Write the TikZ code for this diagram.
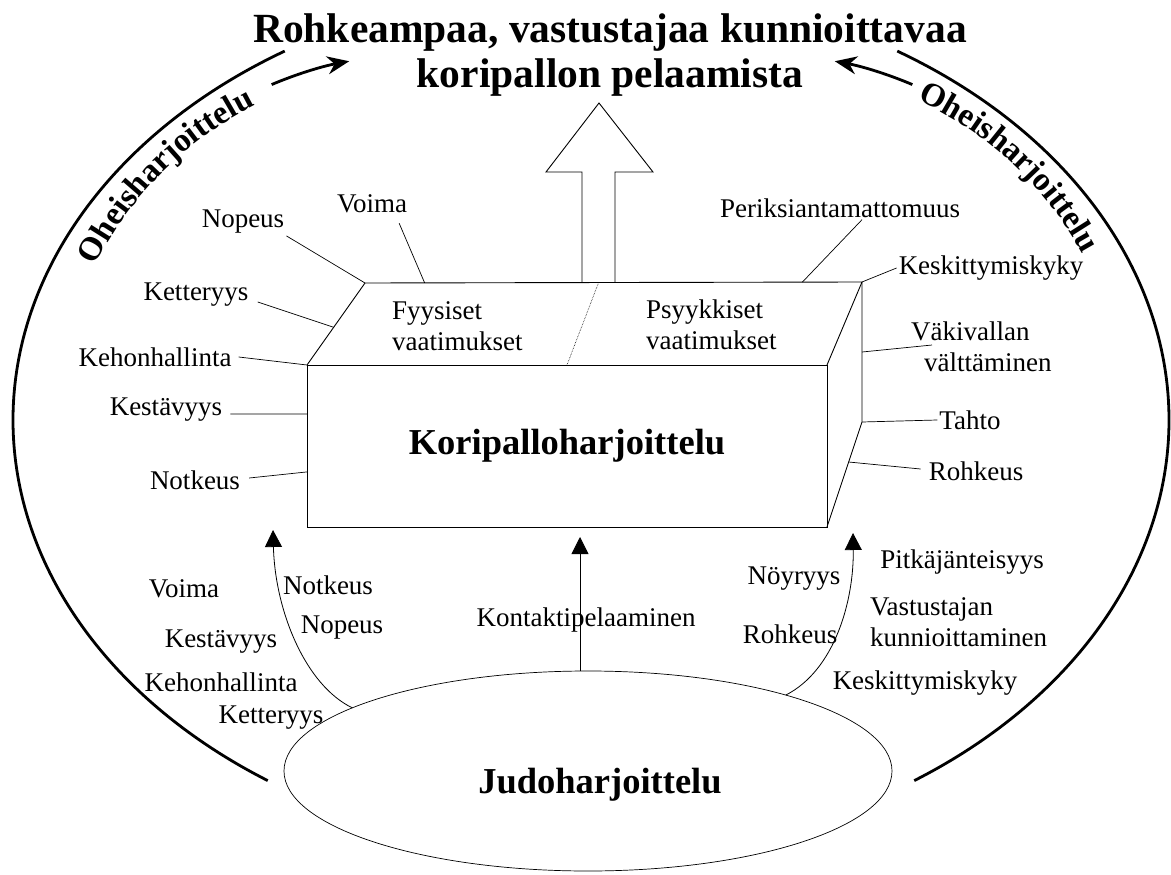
\documentclass[tikz,border=0pt]{standalone}
\usepackage{fontspec}
\setmainfont{Liberation Serif}
\usetikzlibrary{
    arrows.meta,
    calc,
    shapes.geometric,
    decorations.text,
    positioning
}
\newcommand{\lblfont}{\fontsize{27}{31}\selectfont}
\newcommand{\bigfont}{\bfseries\fontsize{36.5}{40}\selectfont}
\newcommand{\titlefont}{\bfseries\fontsize{41.5}{45}\selectfont}
\newcommand{\arcfont}{\bfseries\fontsize{33}{36}\selectfont}
\tikzset{
    lbl/.style={font=\lblfont, inner sep=2pt},
    lead/.style={line width=0.7pt},
    boxline/.style={line width=0.9pt},
    up arrow/.style={line width=0.8pt, -{Triangle[length=17pt,width=17pt]}},
    side arc/.style={line width=2.8pt},
    side arrow/.style={line width=2.8pt, -{Stealth[length=22pt,width=18pt]}},
    arc text/.style={decorate, decoration={text along path, text format delimiters={|}{|},
        text={|\arcfont|Oheisharjoittelu}, text align=center}}
}

\begin{document}
\begin{tikzpicture}[x=1pt, y=-1pt]
\useasboundingbox (0,0) rectangle (1171,875);
\node[font=\titlefont, align=center] (goal) at (610,55) {Rohkeampaa, vastustajaa kunnioittavaa\\koripallon pelaamista};
\draw[side arc] (591,420) ++(-122:578 and 435) arc[start angle=-122, end angle=-236, x radius=578, y radius=435];
\draw[side arc] (591,420) ++(-58:578 and 435) arc[start angle=-58, end angle=56, x radius=578, y radius=435];
\path[arc text] (417,427) ++(-158:360) arc[start angle=-158, end angle=-112, radius=360];
\path[arc text] (767,427) ++(-70:360) arc[start angle=-70, end angle=-24, radius=360];
\draw[side arrow] (417,427) ++(-113:372) arc[start angle=-113, end angle=-100.5, radius=372];
\draw[side arrow] (767,427) ++(-67:372) arc[start angle=-67, end angle=-79.5, radius=372];

% the box
\node[draw, boxline, minimum width=520pt, minimum height=162pt, outer sep=0pt, font=\bigfont] (kori) at (567,446) {Koripalloharjoittelu};
\coordinate (bl) at (365,283);
\coordinate (br) at (862,282);
\coordinate (rb) at (862,422);
\draw[boxline] (kori.north west) -- (bl) -- (br) -- (kori.north east);
\draw[boxline] (br) -- (rb) -- (kori.south east);
\draw[densely dotted, line width=0.6pt] ($(bl)!0.47!(br)$) -- ($(kori.north west)!0.5!(kori.north east)$);
\draw[line width=0.9pt] (582,282) -- (582,172) -- (546,172) -- (599,103) -- (653,172) -- (615,172) -- (615,282);
\node[lbl, align=left, anchor=west] (fyys) at (390,326) {Fyysiset\\vaatimukset};
\node[lbl, align=left, anchor=west] (psyyk) at (644,325) {Psyykkiset\\vaatimukset};

\node[lbl] (nopeus) at (243,222) {Nopeus};
\node[lbl] (voima) at (372,204) {Voima};
\node[lbl] (ketter) at (196,295) {Ketteryys};
\node[lbl] (kehon) at (155,357) {Kehonhallinta};
\node[lbl] (kestav) at (166,410) {Kestävyys};
\node[lbl] (notkeus) at (195,480) {Notkeus};
\draw[lead] (nopeus.south east) -- (bl);
\draw[lead] ($(voima.south east)+(-10,8)$) -- ($(bl)!0.12!(br)$);
\draw[lead] ($(ketter.east)+(7,7)$) -- ($(kori.north west)!0.46!(bl)$);
\draw[lead] ($(kehon.east)+(5,0)$) -- (kori.north west);
\draw[lead] ($(kestav.east)+(6,4)$) -- ($(kori.north west)!0.302!(kori.south west)$);
\draw[lead] ($(notkeus.east)+(7,-2)$) -- ($(kori.north west)!0.66!(kori.south west)$);

\node[lbl] (periks) at (840,208) {Periksiantamattomuus};
\node[lbl] (keskit) at (991,268) {Keskittymiskyky};
\node[lbl, align=left, anchor=west] (vakival) at (909,347) {Väkivallan\\\hspace*{13pt}välttäminen};
\node[lbl] (tahto) at (970,420) {Tahto};
\node[lbl] (rohk) at (976,471) {Rohkeus};
\draw[lead] ($(periks.south)+(22,0)$) -- ($(bl)!0.88!(br)$);
\draw[lead] (keskit.west) -- (br);
\draw[lead] ($(br)!0.5!(rb)$) -- ($(vakival.west)+(23,-2)$);
\draw[lead] (rb) -- (tahto.west);
\draw[lead] ($(rb)!0.381!(kori.south east)$) -- ($(rohk.west)+(-6,-2)$);

% judo
\node[draw, ellipse, minimum width=608pt, minimum height=200pt, inner sep=0pt, outer sep=0pt, line width=0.7pt] (judo) at (588,771) {};
\node[font=\bigfont] (judotxt) at (600,785) {Judoharjoittelu};
\coordinate (ltip) at (273,530);
\coordinate (mtip) at (580,537);
\coordinate (rtip) at (853,533);
\draw[up arrow] (judo.165) .. controls (305,685) and (275,610) .. (ltip);
\draw[up arrow] (mtip |- judo.north) -- (mtip);
\draw[up arrow] (judo.21) .. controls (835,670) and (854,600) .. (rtip);

\node[lbl] (voima2) at (184,589) {Voima};
\node[lbl] (notkeus2) at (328,585) {Notkeus};
\node[lbl] (nopeus2) at (342,628) {Nopeus};
\node[lbl] (kestav2) at (221,642) {Kestävyys};
\node[lbl] (kehon2) at (221,682) {Kehonhallinta};
\node[lbl] (ketter2) at (271,718) {Ketteryys};
\node[lbl] (kontakti) at (586,620) {Kontaktipelaaminen};
\node[lbl] (noyryys) at (794,579) {Nöyryys};
\node[lbl] (rohk2) at (790,634) {Rohkeus};
\node[lbl] (pitka) at (962,562) {Pitkäjänteisyys};
\node[lbl, align=left, anchor=west] (vastus) at (868,622) {Vastustajan\\kunnioittaminen};
\node[lbl] (keskit2) at (925,683) {Keskittymiskyky};
\end{tikzpicture}
\end{document}
